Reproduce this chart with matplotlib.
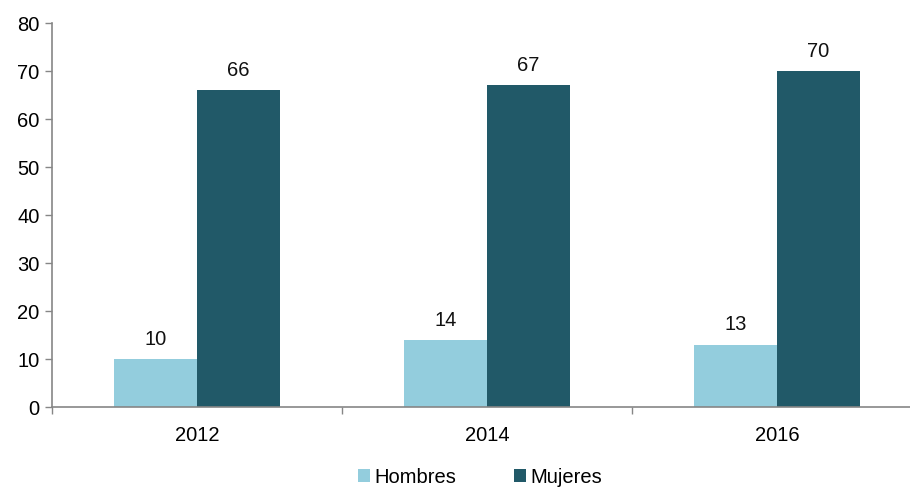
import matplotlib
matplotlib.use("Agg")
import matplotlib.pyplot as plt
import numpy as np

years = ["2012", "2014", "2016"]
hombres = [10, 14, 13]
mujeres = [66, 67, 70]
series_names = ["Hombres", "Mujeres"]

plt.rcParams["font.family"] = ["Liberation Sans", "DejaVu Sans"]

fig = plt.figure(figsize=(9.1, 4.89), dpi=100)
# axes runs a bit past the right edge, as in the original
ax = fig.add_axes([52 / 910, (489 - 408) / 489, 870 / 910, 384 / 489])

x = np.arange(len(years))
w = 0.286
b1 = ax.bar(x - w / 2, hombres, w, color="#93CDDD", label=series_names[0])
b2 = ax.bar(x + w / 2, mujeres, w, color="#215968", label=series_names[1])

for bars in (b1, b2):
    for rect in bars:
        h = rect.get_height()
        ax.annotate(f"{h:g}", (rect.get_x() + rect.get_width() / 2, h),
                    xytext=(0, 8), textcoords="offset points",
                    ha="center", va="bottom", fontsize=14.5, color="#111111")

ax.set_xlim(-0.5, 2.5)
ax.set_ylim(0, 80)
ax.set_yticks(range(0, 81, 10))
ax.set_xticks(x)
ax.set_xticklabels(years)
ax.set_xticks([-0.5, 0.5, 1.5, 2.5], minor=True)
ax.tick_params(axis="x", which="major", length=0, pad=13, labelsize=14.5)
ax.tick_params(axis="x", which="minor", length=5, width=1, color="#868686")
ax.tick_params(axis="y", length=5, width=1, color="#868686", labelsize=14.5, pad=4)

for s in ("top", "right"):
    ax.spines[s].set_visible(False)
for s in ("left", "bottom"):
    ax.spines[s].set_color("#868686")
    ax.spines[s].set_linewidth(1.2)

fig.legend(handles=[b1, b2], loc="center", bbox_to_anchor=(480 / 910, 1 - 478 / 489),
           ncol=2, frameon=False, fontsize=14.5, handlelength=0.6, handleheight=0.6,
           handletextpad=0.2, columnspacing=2.9, borderaxespad=0, borderpad=0.2)

fig.savefig("out.png", dpi=100)
